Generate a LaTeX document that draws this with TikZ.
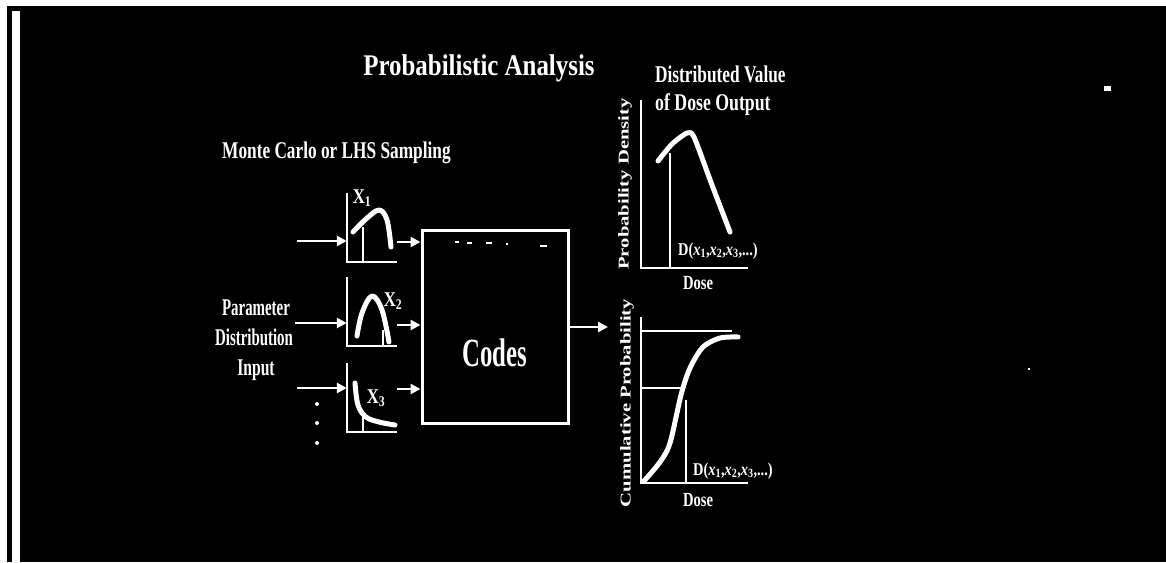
\documentclass[tikz,border=0pt]{standalone}
\usepackage{graphicx}
\usepackage{fontspec}
\setmainfont{Liberation Serif}
\usetikzlibrary{arrows.meta,calc}
\newcommand{\fs}[1]{\fontsize{#1}{#1}\selectfont}
\newcommand{\sx}[2]{\scalebox{#1}[1]{#2}}
\begin{document}
\begin{tikzpicture}[x=1pt,y=-1pt,
  txt/.style={text=white,inner sep=0pt,font=\bfseries},
  ax/.style={white,line width=2.2pt},
  crv/.style={white,line width=5pt,line cap=round,line join=round},
  arr/.style={white,line width=2.5pt,-{Triangle[length=10pt,width=10pt]}},
  thinl/.style={white,line width=1.8pt},
  plotarea/.style={inner sep=0pt,minimum width=50pt,minimum height=69pt},
  speck/.style={white,line width=2pt}]
\useasboundingbox (0,0) rectangle (1166,562);
\fill[white] (0,0) rectangle (1166,562);
\fill[black] (7,6) rectangle (1166,562);
\fill[white] (12,11) rectangle (20,562);

% texts
\node[txt,anchor=base] (title) at (479,75) {\fs{30}\bfseries\sx{0.83}{Probabilistic Analysis}};
\node[txt,anchor=base west] (mc) at (222,158) {\fs{24}\sx{0.72}{Monte Carlo or LHS Sampling}};
\node[txt,anchor=base] (par1) at (256,315) {\fs{24}\sx{0.62}{Parameter}};
\node[txt,anchor=base] (par2) at (254,345) {\fs{24}\sx{0.62}{Distribution}};
\node[txt,anchor=base] (par3) at (256,375) {\fs{24}\sx{0.65}{Input}};
\node[txt,anchor=base west] (dv1) at (655,82) {\fs{24}\sx{0.72}{Distributed Value}};
\node[txt,anchor=base west] (dv2) at (655,110) {\fs{24}\sx{0.74}{of Dose Output}};

% dots
\fill[white] (317,404) circle (2pt);
\fill[white] (317,423) circle (2pt);
\fill[white] (317,443) circle (2pt);

% small input plots
\node[plotarea] (p1) at (372,227.5) {};
\node[plotarea] (p2) at (372,311.5) {};
\node[plotarea] (p3) at (372,397.5) {};
\draw[ax] (p1.north west) -- (p1.south west) -- (p1.south east);
\draw[ax] (p2.north west) -- (p2.south west) -- (p2.south east);
\draw[ax] (p3.north west) -- (p3.south west) -- (p3.south east);
\draw[thinl] (363,227) -- (363,262);
\draw[crv] plot[smooth,tension=0.6] coordinates {(353,232) (366,219) (379,210) (387,220) (391,247)};
\draw[thinl] (383,330) -- (383,345);
\draw[crv] plot[smooth,tension=0.6] coordinates {(357,336) (362,313) (372,296) (382,310) (389,342)};
\draw[thinl] (363,412) -- (363,432);
\draw[crv] plot[smooth,tension=0.6] coordinates {(355,383) (358,405) (366,417) (379,422) (395,425)};
\node[txt] (x1) at (362,198) {\fs{21}\sx{0.8}{X\textsubscript{1}}};
\node[txt] (x2) at (393,301) {\fs{21}\sx{0.8}{X\textsubscript{2}}};
\node[txt] (x3) at (376,398) {\fs{21}\sx{0.8}{X\textsubscript{3}}};

% codes box
\node[draw=white,line width=3pt,minimum width=146pt,minimum height=193pt,inner sep=0pt] (codes) at (495,326.5) {};
\node[txt,anchor=base] (codestxt) at (495,366) {\fs{40}\bfseries\sx{0.62}{Codes}};
\draw[speck] (455,242) -- (459,242);
\draw[speck] (467,243) -- (472,243);
\draw[speck] (486,243) -- (492,243);
\draw[speck] (506,244) -- (508,244);
\draw[speck] (540,246) -- (547,246);

% arrows
\coordinate (in1) at (297,241);
\coordinate (in2) at (295,323);
\coordinate (in3) at (297,388);
\coordinate (o1) at (397,242);
\coordinate (o2) at (397,325);
\coordinate (o3) at (397,389);
\coordinate (outc) at (608,327);
\draw[arr] (in1) -- (p1.west |- in1);
\draw[arr] (in2) -- (p2.west |- in2);
\draw[arr] (in3) -- (p3.west |- in3);
\draw[arr] (o1) -- (codes.west |- o1);
\draw[arr] (o2) -- (codes.west |- o2);
\draw[arr] (o3) -- (codes.west |- o3);
\draw[arr] (codes.east |- outc) -- (outc);

% top right plot
\node[inner sep=0pt,minimum width=107pt,minimum height=168pt] (pd) at (694.5,184) {};
\draw[ax] (pd.north west) -- (pd.south west) -- (pd.south east);
\draw[thinl] (670,153) -- (670,268);
\draw[crv] plot[smooth,tension=0.4] coordinates {(658,161) (672,144) (687,133) (694,137) (712,185) (730,232)};
\node[txt,anchor=west] (dtop) at (678,251) {\fs{18}\sx{0.8}{D(\textit{x}\textsubscript{1},\textit{x}\textsubscript{2},\textit{x}\textsubscript{3},...)}};
\node[txt,anchor=base] (dose1) at (698,289) {\fs{20}\sx{0.73}{Dose}};
\node[txt,rotate=90] (pdl) at (625,184) {\fs{15}\sx{1.38}{Probability Density}};

% bottom right plot
\node[inner sep=0pt,minimum width=107pt,minimum height=166pt] (cp) at (694.5,400) {};
\draw[ax] (cp.north west) -- (cp.south west) -- (cp.south east);
\draw[thinl] (cp.west |- 0,331) -- (732,331);
\draw[thinl] (cp.west |- 0,388) -- (682,388);
\draw[thinl] (686,400) -- (686,483);
\draw[crv] plot[smooth,tension=0.5] coordinates {(644,481) (660,462) (670,443) (681,395) (690,368) (703,347) (720,338) (738,337)};
\node[txt,anchor=west] (dbot) at (693,471) {\fs{18}\sx{0.8}{D(\textit{x}\textsubscript{1},\textit{x}\textsubscript{2},\textit{x}\textsubscript{3},...)}};
\node[txt,anchor=base] (dose2) at (698,506) {\fs{20}\sx{0.73}{Dose}};
\node[txt,rotate=90] (cpl) at (627,403) {\fs{15}\sx{1.38}{Cumulative Probability}};

% specks
\fill[white] (1104,86) rectangle (1111,91);
\fill[white] (1028,368) rectangle (1030,370);
\end{tikzpicture}
\end{document}
